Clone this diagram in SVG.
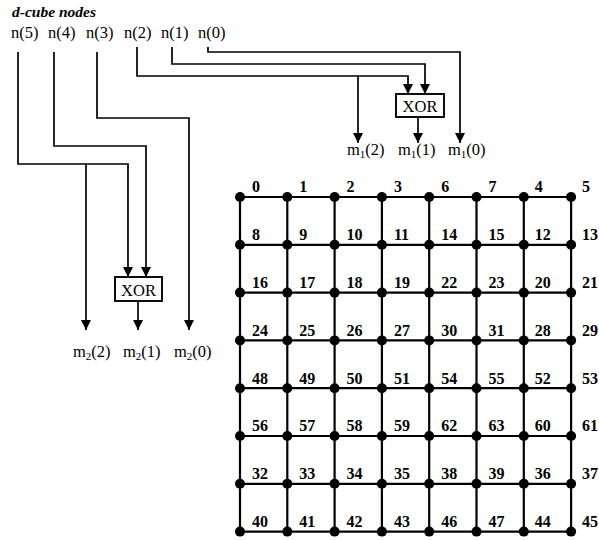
<svg xmlns="http://www.w3.org/2000/svg" width="599" height="540" viewBox="0 0 599 540">
<style>
.lbl{font-family:"Liberation Serif","Times New Roman",serif;font-size:16.5px;fill:#000}
.num{font-family:"Liberation Serif","Times New Roman",serif;font-size:16px;font-weight:bold;fill:#000}
.ttl{font-family:"Liberation Serif","Times New Roman",serif;font-size:15.5px;font-weight:bold;font-style:italic;fill:#000}
.wire{fill:none;stroke:#000;stroke-width:1.7}
.grid{fill:none;stroke:#000;stroke-width:2.2}
.box{fill:#fff;stroke:#000;stroke-width:1.9}
.dot{fill:#000}
</style>
<defs>
<marker id="ah" viewBox="0 0 10 10" refX="10" refY="5" markerWidth="10" markerHeight="10" markerUnits="userSpaceOnUse" orient="auto">
<path d="M0,0 L10,5 L0,10 z" fill="#000"/>
</marker>
</defs>
<rect width="599" height="540" fill="#fff"/>
<text class="ttl" x="12" y="17">d-cube nodes</text>
<g id="inputs">
<text class="lbl" x="11" y="38">n(5)</text>
<text class="lbl" x="48" y="38">n(4)</text>
<text class="lbl" x="86" y="38">n(3)</text>
<text class="lbl" x="124" y="38">n(2)</text>
<text class="lbl" x="161" y="38">n(1)</text>
<text class="lbl" x="198" y="38">n(0)</text>
</g>
<g id="connectors">
<path class="wire" d="M18,52 V164 H128 V277" marker-end="url(#ah)"/>
<path class="wire" d="M86,164 V330" marker-end="url(#ah)"/>
<path class="wire" d="M54,52 V146 H146 V277" marker-end="url(#ah)"/>
<path class="wire" d="M97,52 V118 H189 V330" marker-end="url(#ah)"/>
<path class="wire" d="M138,301 V330" marker-end="url(#ah)"/>
<path class="wire" d="M137,47 V76 H408 V94" marker-end="url(#ah)"/>
<path class="wire" d="M358,76 V143" marker-end="url(#ah)"/>
<path class="wire" d="M172,47 V64 H425 V94" marker-end="url(#ah)"/>
<path class="wire" d="M208,47 V52 H460 V143" marker-end="url(#ah)"/>
<path class="wire" d="M418,117 V143" marker-end="url(#ah)"/>
</g>
<g id="xor1">
<rect class="box" x="396" y="94" width="48" height="23"/>
<text class="lbl" x="420" y="112" text-anchor="middle">XOR</text>
</g>
<g id="xor2">
<rect class="box" x="115" y="277" width="47" height="24"/>
<text class="lbl" x="138.5" y="296" text-anchor="middle">XOR</text>
</g>
<g id="outputs1">
<text class="lbl" x="347" y="155">m<tspan font-size="11" dy="3">1</tspan><tspan dy="-3">(2)</tspan></text>
<text class="lbl" x="398" y="155">m<tspan font-size="11" dy="3">1</tspan><tspan dy="-3">(1)</tspan></text>
<text class="lbl" x="448" y="155">m<tspan font-size="11" dy="3">1</tspan><tspan dy="-3">(0)</tspan></text>
</g>
<g id="outputs2">
<text class="lbl" x="73" y="357">m<tspan font-size="11" dy="3">2</tspan><tspan dy="-3">(2)</tspan></text>
<text class="lbl" x="123" y="357">m<tspan font-size="11" dy="3">2</tspan><tspan dy="-3">(1)</tspan></text>
<text class="lbl" x="174" y="357">m<tspan font-size="11" dy="3">2</tspan><tspan dy="-3">(0)</tspan></text>
</g>
<g id="mesh-lines">
<path class="grid" d="M240,197 H571 M240,244.8 H571 M240,292.6 H571 M240,340.4 H571 M240,388.2 H571 M240,436 H571 M240,483.8 H571 M240,531.6 H571"/>
<path class="grid" d="M240,197 V531.6 M287.3,197 V531.6 M334.6,197 V531.6 M381.9,197 V531.6 M429.2,197 V531.6 M476.5,197 V531.6 M523.8,197 V531.6 M571.1,197 V531.6"/>
</g>
<g id="mesh-nodes">
<g class="dot">
<circle cx="240" cy="197" r="5"/><circle cx="287.3" cy="197" r="5"/><circle cx="334.6" cy="197" r="5"/><circle cx="381.9" cy="197" r="5"/><circle cx="429.2" cy="197" r="5"/><circle cx="476.5" cy="197" r="5"/><circle cx="523.8" cy="197" r="5"/><circle cx="571.1" cy="197" r="5"/>
<circle cx="240" cy="244.8" r="5"/><circle cx="287.3" cy="244.8" r="5"/><circle cx="334.6" cy="244.8" r="5"/><circle cx="381.9" cy="244.8" r="5"/><circle cx="429.2" cy="244.8" r="5"/><circle cx="476.5" cy="244.8" r="5"/><circle cx="523.8" cy="244.8" r="5"/><circle cx="571.1" cy="244.8" r="5"/>
<circle cx="240" cy="292.6" r="5"/><circle cx="287.3" cy="292.6" r="5"/><circle cx="334.6" cy="292.6" r="5"/><circle cx="381.9" cy="292.6" r="5"/><circle cx="429.2" cy="292.6" r="5"/><circle cx="476.5" cy="292.6" r="5"/><circle cx="523.8" cy="292.6" r="5"/><circle cx="571.1" cy="292.6" r="5"/>
<circle cx="240" cy="340.4" r="5"/><circle cx="287.3" cy="340.4" r="5"/><circle cx="334.6" cy="340.4" r="5"/><circle cx="381.9" cy="340.4" r="5"/><circle cx="429.2" cy="340.4" r="5"/><circle cx="476.5" cy="340.4" r="5"/><circle cx="523.8" cy="340.4" r="5"/><circle cx="571.1" cy="340.4" r="5"/>
<circle cx="240" cy="388.2" r="5"/><circle cx="287.3" cy="388.2" r="5"/><circle cx="334.6" cy="388.2" r="5"/><circle cx="381.9" cy="388.2" r="5"/><circle cx="429.2" cy="388.2" r="5"/><circle cx="476.5" cy="388.2" r="5"/><circle cx="523.8" cy="388.2" r="5"/><circle cx="571.1" cy="388.2" r="5"/>
<circle cx="240" cy="436" r="5"/><circle cx="287.3" cy="436" r="5"/><circle cx="334.6" cy="436" r="5"/><circle cx="381.9" cy="436" r="5"/><circle cx="429.2" cy="436" r="5"/><circle cx="476.5" cy="436" r="5"/><circle cx="523.8" cy="436" r="5"/><circle cx="571.1" cy="436" r="5"/>
<circle cx="240" cy="483.8" r="5"/><circle cx="287.3" cy="483.8" r="5"/><circle cx="334.6" cy="483.8" r="5"/><circle cx="381.9" cy="483.8" r="5"/><circle cx="429.2" cy="483.8" r="5"/><circle cx="476.5" cy="483.8" r="5"/><circle cx="523.8" cy="483.8" r="5"/><circle cx="571.1" cy="483.8" r="5"/>
<circle cx="240" cy="531.6" r="5"/><circle cx="287.3" cy="531.6" r="5"/><circle cx="334.6" cy="531.6" r="5"/><circle cx="381.9" cy="531.6" r="5"/><circle cx="429.2" cy="531.6" r="5"/><circle cx="476.5" cy="531.6" r="5"/><circle cx="523.8" cy="531.6" r="5"/><circle cx="571.1" cy="531.6" r="5"/>
</g>
</g>
<g id="mesh-labels" class="num">
<text class="num" x="252" y="192">0</text><text class="num" x="299.3" y="192">1</text><text class="num" x="346.6" y="192">2</text><text class="num" x="393.9" y="192">3</text><text class="num" x="441.2" y="192">6</text><text class="num" x="488.5" y="192">7</text><text class="num" x="534.8" y="192">4</text><text class="num" x="582.1" y="192">5</text>
<text class="num" x="252" y="240">8</text><text class="num" x="299.3" y="240">9</text><text class="num" x="346.6" y="240">10</text><text class="num" x="393.9" y="240">11</text><text class="num" x="441.2" y="240">14</text><text class="num" x="488.5" y="240">15</text><text class="num" x="534.8" y="240">12</text><text class="num" x="582.1" y="240">13</text>
<text class="num" x="252" y="288">16</text><text class="num" x="299.3" y="288">17</text><text class="num" x="346.6" y="288">18</text><text class="num" x="393.9" y="288">19</text><text class="num" x="441.2" y="288">22</text><text class="num" x="488.5" y="288">23</text><text class="num" x="534.8" y="288">20</text><text class="num" x="582.1" y="288">21</text>
<text class="num" x="252" y="336">24</text><text class="num" x="299.3" y="336">25</text><text class="num" x="346.6" y="336">26</text><text class="num" x="393.9" y="336">27</text><text class="num" x="441.2" y="336">30</text><text class="num" x="488.5" y="336">31</text><text class="num" x="534.8" y="336">28</text><text class="num" x="582.1" y="336">29</text>
<text class="num" x="252" y="383.5">48</text><text class="num" x="299.3" y="383.5">49</text><text class="num" x="346.6" y="383.5">50</text><text class="num" x="393.9" y="383.5">51</text><text class="num" x="441.2" y="383.5">54</text><text class="num" x="488.5" y="383.5">55</text><text class="num" x="534.8" y="383.5">52</text><text class="num" x="582.1" y="383.5">53</text>
<text class="num" x="252" y="431">56</text><text class="num" x="299.3" y="431">57</text><text class="num" x="346.6" y="431">58</text><text class="num" x="393.9" y="431">59</text><text class="num" x="441.2" y="431">62</text><text class="num" x="488.5" y="431">63</text><text class="num" x="534.8" y="431">60</text><text class="num" x="582.1" y="431">61</text>
<text class="num" x="252" y="479">32</text><text class="num" x="299.3" y="479">33</text><text class="num" x="346.6" y="479">34</text><text class="num" x="393.9" y="479">35</text><text class="num" x="441.2" y="479">38</text><text class="num" x="488.5" y="479">39</text><text class="num" x="534.8" y="479">36</text><text class="num" x="582.1" y="479">37</text>
<text class="num" x="252" y="527">40</text><text class="num" x="299.3" y="527">41</text><text class="num" x="346.6" y="527">42</text><text class="num" x="393.9" y="527">43</text><text class="num" x="441.2" y="527">46</text><text class="num" x="488.5" y="527">47</text><text class="num" x="534.8" y="527">44</text><text class="num" x="582.1" y="527">45</text>
</g>
</svg>
